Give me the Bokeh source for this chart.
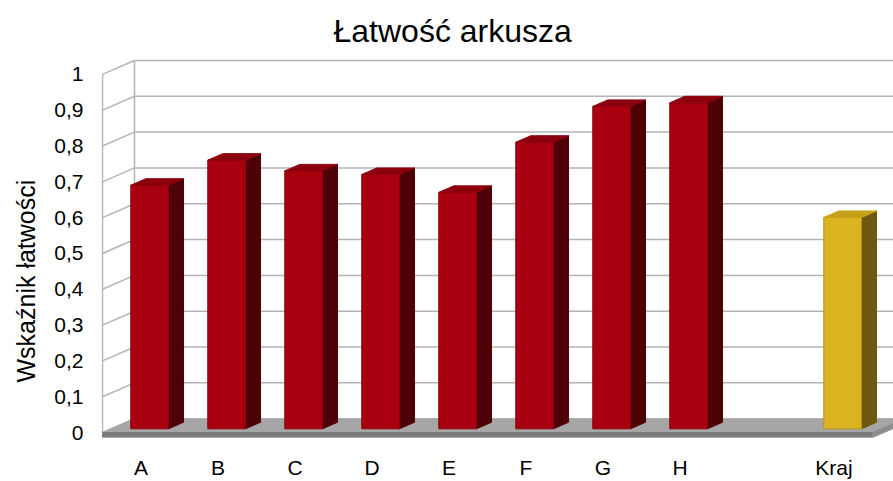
import math
from bokeh.plotting import figure
from bokeh.models import Range1d, FixedTicker, Title
from bokeh.embed import file_html
from bokeh.resources import INLINE

# ---------------- data ----------------
categories = ["A", "B", "C", "D", "E", "F", "G", "H", "Kraj"]
slots = [0, 1, 2, 3, 4, 5, 6, 7, 9]          # slot 8 is empty
values = [0.68, 0.75, 0.72, 0.71, 0.66, 0.80, 0.90, 0.91, 0.59]
series = ["szkola"] * 8 + ["kraj"]
y_ticks = [0, 0.1, 0.2, 0.3, 0.4, 0.5, 0.6, 0.7, 0.8, 0.9, 1]
y_tick_labels = ["0", "0,1", "0,2", "0,3", "0,4", "0,5", "0,6", "0,7", "0,8", "0,9", "1"]
title_text = "Łatwość arkusza"
y_title = "Wskaźnik łatwości"
n_slots = 10

# ---------------- styles ----------------
FONT = "Liberation Sans"
face = {"szkola": ("#A8000F", "#4E0007", "#8C000D", "#8A000C"),
        "kraj": ("#DAB420", "#6C5810", "#C6A21A", "#B8951A")}
GRID = "#B4B4B4"
DX = 32 / 77.0      # depth offset in x units
DY = 14 / 361.0     # depth offset in value units
F1, F2 = 0.27, 0.74  # bar front / back depth
BW = 0.49            # bar width
FLOOR_T = 5 / 361.0

x_start = -1 / 77.0
x_end = x_start + 792 / 77.0
v_start = -FLOOR_T
v_end = (435 - 57) / 361.0

p = figure(width=893, height=481, output_backend="svg", toolbar_location=None,
           x_range=Range1d(x_start, x_end), y_range=Range1d(v_start, v_end),
           min_border_left=101, min_border_right=0, min_border_top=57, min_border_bottom=41)
p.outline_line_color = None
p.xgrid.visible = False
p.ygrid.visible = False
p.background_fill_color = "white"
p.border_fill_color = "white"

# ---------------- title ----------------
p.title.text = title_text
p.title.text_font = FONT
p.title.text_font_size = "32px"
p.title.text_font_style = "normal"
p.title.text_color = "black"
p.title.align = "left"
p.title.offset = 232
p.title.standoff = 17

# ---------------- walls & grid ----------------
back_right = x_end + 1
p.multi_line(xs=[[0, 0], [DX, DX]], ys=[[0, 1], [DY, 1 + DY]], line_color=GRID, line_width=1.5)
p.multi_line(xs=[[0, DX] for t in y_ticks], ys=[[t, t + DY] for t in y_ticks],
             line_color=GRID, line_width=1.5)
p.multi_line(xs=[[DX, back_right] for t in y_ticks[1:]], ys=[[t + DY, t + DY] for t in y_ticks[1:]],
             line_color=GRID, line_width=1.5)

# ---------------- floor ----------------
p.patch([0, n_slots, n_slots + DX, DX], [0, 0, DY, DY], fill_color="#A6A6A6", line_color="#A6A6A6")
p.patch([0, n_slots, n_slots, 0], [0, 0, -FLOOR_T, -FLOOR_T], fill_color="#7C7C7C", line_color="#7C7C7C")
p.patch([n_slots, n_slots + DX, n_slots + DX, n_slots], [0, DY, DY - FLOOR_T, -FLOOR_T],
        fill_color="#8C8C8C", line_color="#8C8C8C")

# ---------------- bars ----------------
dd = F2 - F1
for s, v, ser in zip(slots, values, series):
    fc, sc, tc, lc = face[ser]
    xl = s + 0.5 - BW / 2 + F1 * DX
    xr = xl + BW
    yb = F1 * DY
    p.patch([xr, xr + dd * DX, xr + dd * DX, xr], [yb, F2 * DY, v + F2 * DY, v + yb],
            fill_color=sc, line_color=sc, line_join="round")
    p.patch([xl, xr, xr, xl], [yb, yb, v + yb, v + yb], fill_color=fc, line_color=lc,
            line_width=1, line_join="round")
    p.patch([xl, xr, xr + dd * DX, xl + dd * DX], [v + yb, v + yb, v + F2 * DY, v + F2 * DY],
            fill_color=tc, line_color=tc, line_join="round")

# ---------------- axes ----------------
p.yaxis.ticker = FixedTicker(ticks=y_ticks)
p.yaxis.major_label_overrides = {t: l for t, l in zip(y_ticks, y_tick_labels)}
p.yaxis.axis_line_color = None
p.yaxis.major_tick_line_color = None
p.yaxis.minor_tick_line_color = None
p.yaxis.major_tick_in = 0
p.yaxis.major_tick_out = 0
p.yaxis.major_label_standoff = 18
p.yaxis.major_label_text_font = FONT
p.yaxis.major_label_text_font_size = "21px"
p.yaxis.major_label_text_color = "black"

x_ticks = [s + 0.5 for s in slots]
p.xaxis.ticker = FixedTicker(ticks=x_ticks)
p.xaxis.major_label_overrides = {t: c for t, c in zip(x_ticks, categories)}
p.xaxis.axis_line_color = None
p.xaxis.major_tick_line_color = None
p.xaxis.minor_tick_line_color = None
p.xaxis.major_tick_in = 0
p.xaxis.major_tick_out = 0
p.xaxis.major_label_standoff = 18
p.xaxis.major_label_text_font = FONT
p.xaxis.major_label_text_font_size = "21px"
p.xaxis.major_label_text_color = "black"

# vertical axis title as a side title
p.add_layout(Title(text=y_title, align="left", offset=55, vertical_align="top", standoff=20,
                   text_font=FONT, text_font_size="25px", text_font_style="normal",
                   text_color="black"), "left")

open("out.html", "w").write(file_html(p, INLINE))
